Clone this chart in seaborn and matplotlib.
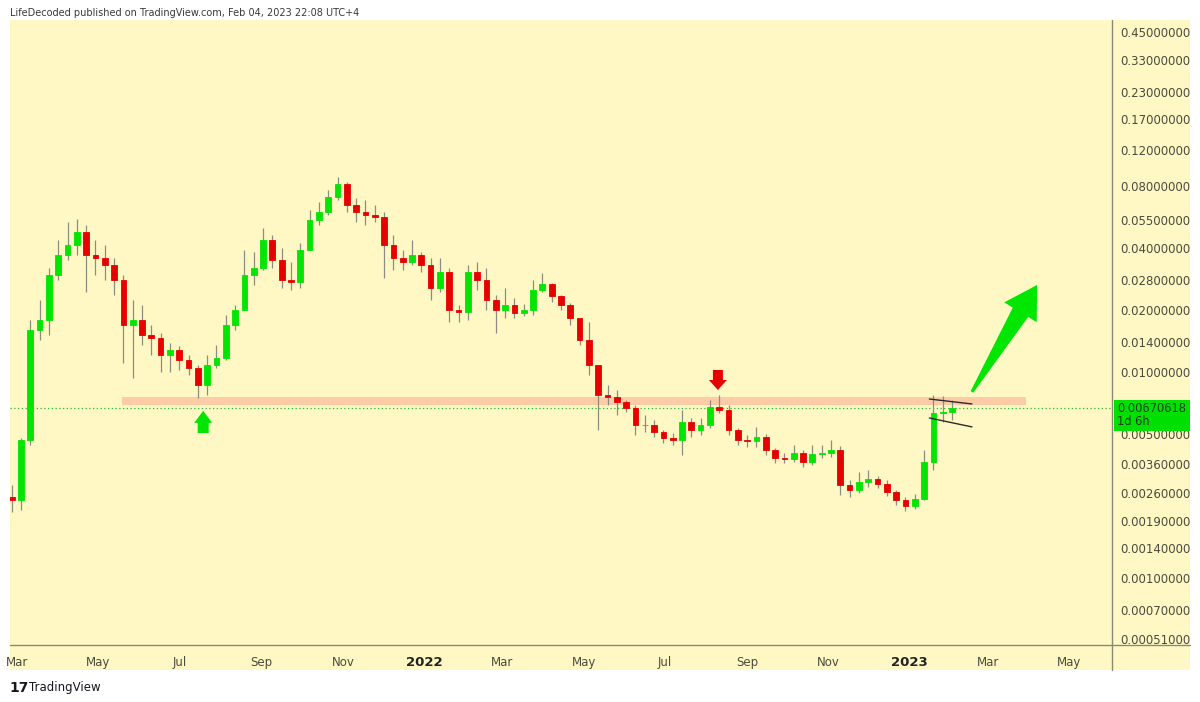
import numpy as np
import pandas as pd
import matplotlib
matplotlib.use("Agg")
import matplotlib.pyplot as plt
import matplotlib.dates as mdates
import seaborn as sns
from matplotlib.patches import Rectangle, Polygon
from matplotlib.lines import Line2D
from matplotlib.ticker import NullLocator
from matplotlib.transforms import IdentityTransform

# weekly candles (price per token)
first_date = "2021-02-25"
first_open = 0.00248
closes = [
    0.00240, 0.00470, 0.0161, 0.0180, 0.0297, 0.0372, 0.0416, 0.0481, 0.0372, 0.0359,
    0.0333, 0.0281, 0.0170, 0.0180, 0.0152, 0.0147, 0.0122, 0.0129, 0.0115, 0.01052,
    0.00870, 0.01087, 0.0118, 0.0170, 0.0201, 0.0297, 0.0321, 0.0440, 0.0352, 0.0281,
    0.0275, 0.0393, 0.0550, 0.0601, 0.0711, 0.0822, 0.0651, 0.0601, 0.0582, 0.0569,
    0.0416, 0.0359, 0.0344, 0.0372, 0.0333, 0.0257, 0.0307, 0.0201, 0.0197, 0.0307,
    0.0281, 0.0225, 0.0201, 0.0213, 0.0194, 0.0201, 0.0252, 0.0269, 0.0236, 0.0213,
    0.0184, 0.0144, 0.01087, 0.00777, 0.00760, 0.00719, 0.00672, 0.00556, 0.00556, 0.00514,
    0.00481, 0.00470, 0.00575, 0.00526, 0.00556, 0.00680, 0.00658, 0.00526, 0.00470, 0.00465,
    0.00486, 0.00421, 0.00385, 0.00381, 0.00407, 0.00368, 0.00403, 0.00407, 0.00421, 0.00285,
    0.00269, 0.00294, 0.00304, 0.00288, 0.00263, 0.00240, 0.00224, 0.00243, 0.00368, 0.00636,
    0.00643, 0.00670618,
]
highs = [
    0.00284, 0.00481, 0.0180, 0.0225, 0.0321, 0.0440, 0.0538, 0.0556, 0.0520, 0.0440,
    0.0416, 0.0359, 0.0297, 0.0225, 0.0213, 0.0170, 0.0156, 0.0139, 0.0135, 0.0122,
    0.01087, 0.0122, 0.0136, 0.0190, 0.0213, 0.0393, 0.0384, 0.0503, 0.0465, 0.0402,
    0.0344, 0.0425, 0.0615, 0.0673, 0.0769, 0.0889, 0.0841, 0.0704, 0.0688, 0.0651,
    0.0601, 0.0465, 0.0393, 0.0440, 0.0384, 0.0359, 0.0359, 0.0321, 0.0213, 0.0333,
    0.0344, 0.0321, 0.0238, 0.0257, 0.0230, 0.0215, 0.0281, 0.0304, 0.0272, 0.0238,
    0.0218, 0.0184, 0.0176, 0.01087, 0.00870, 0.00822, 0.00735, 0.00695, 0.00622, 0.00588,
    0.00526, 0.00509, 0.00658, 0.00602, 0.00602, 0.00735, 0.00777, 0.00695, 0.00538, 0.00497,
    0.00544, 0.00500, 0.00430, 0.00407, 0.00444, 0.00421, 0.00444, 0.00444, 0.00470, 0.00440,
    0.00301, 0.00329, 0.00336, 0.00314, 0.00301, 0.00269, 0.00249, 0.00257, 0.00421, 0.00777,
    0.00768, 0.00735,
]
lows = [
    0.00210, 0.00215, 0.00444, 0.0144, 0.0152, 0.0281, 0.0352, 0.0372, 0.0246, 0.0297,
    0.0281, 0.0238, 0.0111, 0.0094, 0.0136, 0.0122, 0.01005, 0.01005, 0.01028, 0.00972,
    0.00752, 0.00777, 0.01052, 0.0115, 0.0161, 0.0201, 0.0266, 0.0314, 0.0321, 0.0257,
    0.0252, 0.0257, 0.0393, 0.0520, 0.0582, 0.0688, 0.0601, 0.0538, 0.0520, 0.0538,
    0.0287, 0.0314, 0.0314, 0.0333, 0.0307, 0.0225, 0.0246, 0.0176, 0.0176, 0.0180,
    0.0252, 0.0201, 0.0156, 0.0184, 0.0184, 0.0188, 0.0190, 0.0246, 0.0220, 0.0201,
    0.0170, 0.0136, 0.00972, 0.00526, 0.00695, 0.00622, 0.00643, 0.00497, 0.00514, 0.00486,
    0.00454, 0.00444, 0.00398, 0.00486, 0.00497, 0.00538, 0.00636, 0.00497, 0.00444, 0.00435,
    0.00435, 0.00398, 0.00364, 0.00364, 0.00368, 0.00348, 0.00356, 0.00385, 0.00389, 0.00254,
    0.00249, 0.00260, 0.00278, 0.00275, 0.00252, 0.00227, 0.00213, 0.00217, 0.00240, 0.00336,
    0.00575, 0.00588,
]

price_ticks = [0.45, 0.33, 0.23, 0.17, 0.12, 0.08, 0.055, 0.04, 0.028, 0.02, 0.014,
               0.01, 0.005, 0.0036, 0.0026, 0.0019, 0.0014, 0.001, 0.0007, 0.00051]
month_ticks = ["2021-03-01", "2021-05-01", "2021-07-01", "2021-09-01", "2021-11-01",
               "2022-01-01", "2022-03-01", "2022-05-01", "2022-07-01", "2022-09-01",
               "2022-11-01", "2023-01-01", "2023-03-01", "2023-05-01"]
month_labels = ["Mar", "May", "Jul", "Sep", "Nov", "2022", "Mar", "May", "Jul", "Sep",
                "Nov", "2023", "Mar", "May"]

# drawn annotations
zone_start, zone_end = "2021-05-19", "2023-03-30"
zone_low, zone_high = 0.00695, 0.0076
last_price = 0.00670618
tri_dates = ["2023-01-16", "2023-02-17"]
tri_upper = [0.00743, 0.00703]
tri_lower = [0.00601, 0.00544]

green = "#00e600"
red = "#e60000"
bg = "#fff8c5"
frame = "#8a8a72"

sns.set_theme(style="white")
plt.rcParams["font.family"] = ["DejaVu Sans"]

W, H = 1200, 702
fig = plt.figure(figsize=(12, 7.02), dpi=100)
fig.patch.set_facecolor("white")


def fx(px):
    return px / W


def fy(py):
    return 1 - py / H


fig.patches.append(Rectangle((fx(10), fy(670)), fx(1190) - fx(10), fy(20) - fy(670),
                             transform=fig.transFigure, facecolor=bg, edgecolor="none", zorder=-5))

ax = fig.add_axes([fx(10), fy(645), fx(1112) - fx(10), fy(20) - fy(645)])
ax.set_facecolor("none")
for s in ax.spines.values():
    s.set_visible(False)

ax.set_yscale("log")
ax.set_ylim(0.000475, 0.5143)
base = mdates.date2num(pd.Timestamp("2021-03-01"))

dates = pd.date_range(first_date, periods=len(closes), freq="7D")
xs = mdates.date2num(dates)
c = np.array(closes)
o = np.array([first_open] + closes[:-1])
cols = np.where(c >= o, green, red)

ax.vlines(xs, lows, highs, color="#8c8c80", lw=0.9, zorder=3)
ax.bar(xs, np.abs(c - o), bottom=np.minimum(o, c), width=4.3, color=cols,
       edgecolor=cols, linewidth=0.6, zorder=4)

# support / resistance zone and last price line
zx = mdates.date2num(pd.to_datetime([zone_start, zone_end]))
ax.fill_between(zx, zone_low, zone_high, color="#fdcba6", lw=0, zorder=2)
ax.axhline(last_price, color="#2cb82c", lw=0.9, ls=(0, (1, 2)), zorder=2.5)

tx = mdates.date2num(pd.to_datetime(tri_dates))
ax.plot(tx, tri_upper, color="#2b2b2b", lw=1.0, zorder=5)
ax.plot(tx, tri_lower, color="#2b2b2b", lw=1.0, zorder=5)
ax.set_xlim(base - 5.26, base + 823.3)

# axes ticks
ax.yaxis.tick_right()
ax.set_yticks(price_ticks)
ax.set_yticklabels([f"{v:.8f}" for v in price_ticks])
ax.yaxis.set_minor_locator(NullLocator())
ax.tick_params(axis="y", length=0, pad=6, labelsize=8.5, labelcolor="#4b4b3c")
ax.set_xticks(mdates.date2num(pd.to_datetime(month_ticks)))
ax.set_xticklabels(month_labels)
ax.xaxis.set_minor_locator(NullLocator())
ax.tick_params(axis="x", length=0, pad=8, labelsize=8.5, labelcolor="#4b4b3c")
for lab in ax.get_xticklabels():
    if lab.get_text().isdigit():
        lab.set_fontweight("bold")
        lab.set_color("#222222")
        lab.set_fontsize(9.5)
ax.grid(False)

fig.add_artist(Line2D([fx(10), fx(1190)], [fy(645), fy(645)], transform=fig.transFigure,
                      color=frame, lw=1))
fig.add_artist(Line2D([fx(1112), fx(1112)], [fy(20), fy(670)], transform=fig.transFigure,
                      color=frame, lw=1))


def block_arrow(d0, p0, d1, p1, tail_w, shaft_w, head_w, head_len, color):
    a = ax.transData.transform((mdates.date2num(pd.Timestamp(d0)), p0))
    b = ax.transData.transform((mdates.date2num(pd.Timestamp(d1)), p1))
    v = b - a
    L = np.hypot(*v)
    u = v / L
    n = np.array([-u[1], u[0]])
    k = L - head_len
    pts = [a + n * tail_w, a + u * k + n * shaft_w, a + u * k + n * head_w, b,
           a + u * k - n * head_w, a + u * k - n * shaft_w, a - n * tail_w]
    fig.patches.append(Polygon(pts, closed=True, transform=IdentityTransform(),
                               facecolor=color, edgecolor="none", zorder=6))


block_arrow("2021-07-19", 0.00508, "2021-07-19", 0.00651, 5.5, 5.5, 9, 12, green)
block_arrow("2022-08-10", 0.01028, "2022-08-10", 0.00822, 5, 5, 9, 10, red)
block_arrow("2023-02-17", 0.00804, "2023-04-07", 0.0266, 1.5, 9, 19, 32, green)

# last price tag on the price scale
ly = ax.transData.transform((base, last_price))[1]
py = H - ly
fig.patches.append(Rectangle((fx(1114), fy(py + 23)), fx(1190) - fx(1114), 31 / H,
                             transform=fig.transFigure, facecolor="#00e000",
                             edgecolor="none", zorder=5))
fig.text(fx(1117), fy(py), "0.00670618", fontsize=8.3, color="#1f3d1f", va="center", zorder=6)
fig.text(fx(1117), fy(py + 13), "1d 6h", fontsize=8.3, color="#1f3d1f", va="center", zorder=6)

fig.text(fx(10), fy(13), "LifeDecoded published on TradingView.com, Feb 04, 2023 22:08 UTC+4",
         fontsize=7, color="#3a3a3a", va="center")
fig.text(fx(9), fy(688), "17", fontsize=10, fontweight="bold", color="#131722", va="center")
fig.text(fx(29), fy(688), "TradingView", fontsize=8.5, color="#131722", va="center")

fig.savefig("out.png", dpi=100, facecolor="white")
